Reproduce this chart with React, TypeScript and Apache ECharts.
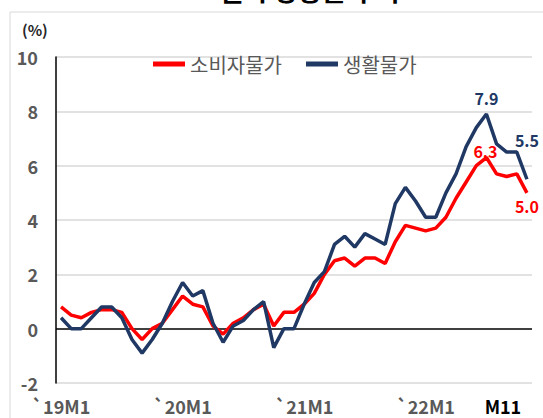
import React, { useEffect, useRef } from "react";
import * as echarts from "echarts";

const categories: string[] = [];
const years = ["19", "20", "21", "22"];
years.forEach((y) => {
  for (let m = 1; m <= 12; m++) {
    if (y === "22" && m > 11) break;
    categories.push(`${y}M${m}`);
  }
});

const cpi = [
  0.8, 0.5, 0.4, 0.6, 0.7, 0.7, 0.6, 0.0, -0.4, 0.0, 0.2, 0.7,
  1.2, 0.9, 0.8, 0.1, -0.2, 0.2, 0.4, 0.7, 0.9, 0.1, 0.6, 0.6,
  0.9, 1.3, 2.0, 2.5, 2.6, 2.3, 2.6, 2.6, 2.4, 3.2, 3.8, 3.7,
  3.6, 3.7, 4.1, 4.8, 5.4, 6.0, 6.3, 5.7, 5.6, 5.7, 5.0,
];
const living = [
  0.4, 0.0, 0.0, 0.4, 0.8, 0.8, 0.4, -0.4, -0.9, -0.4, 0.2, 1.0,
  1.7, 1.2, 1.4, 0.2, -0.5, 0.1, 0.3, 0.7, 1.0, -0.7, 0.0, 0.0,
  0.9, 1.7, 2.1, 3.1, 3.4, 3.0, 3.5, 3.3, 3.1, 4.6, 5.2, 4.7,
  4.1, 4.1, 5.0, 5.7, 6.7, 7.4, 7.9, 6.8, 6.5, 6.5, 5.5,
];
const tickLabels: Record<number, string> = {
  0: "`19M1",
  12: "`20M1",
  24: "`21M1",
  36: "`22M1",
  46: "M11",
};
const seriesNames = ["소비자물가", "생활물가"];

const RED = "#ff0000";
const NAVY = "#203864";
const GRAY = "#595959";
const FONT = "'Noto Sans CJK KR', 'Noto Sans', sans-serif";

export default function App() {
  const ref = useRef<HTMLDivElement>(null);
  useEffect(() => {
    if (!ref.current) return;
    const chart = echarts.init(ref.current, undefined, { renderer: "svg" });
    const peakIdx = 42;
    const lastIdx = cpi.length - 1;
    const cpiData = cpi.map((v, i) => {
      if (i === peakIdx)
        return {
          value: v,
          label: { show: true, position: "top", offset: [-1, 6], color: RED },
        };
      if (i === lastIdx)
        return {
          value: v,
          label: { show: true, position: "bottom", offset: [0, 0], color: RED },
        };
      return v;
    });
    const livingData = living.map((v, i) => {
      if (i === peakIdx)
        return {
          value: v,
          label: { show: true, position: "top", offset: [0, -3], color: NAVY },
        };
      if (i === lastIdx)
        return {
          value: v,
          label: { show: true, position: "top", offset: [0, -26], color: NAVY },
        };
      return v;
    });
    const labelBase = {
      show: false,
      fontSize: 16,
      fontWeight: "bold" as const,
      fontFamily: FONT,
      formatter: (p: any) => Number(p.value).toFixed(1),
    };
    chart.setOption({
      animation: false,
      textStyle: { fontFamily: FONT },
      graphic: [
        {
          type: "rect",
          shape: { x: 10, y: 12, width: 600, height: 500 },
          style: { fill: "none", stroke: "#d9d9d9", lineWidth: 1 },
          silent: true,
        },
        {
          type: "text",
          x: 310,
          y: 2,
          style: {
            text: "물가 상승률 추이",
            fontSize: 26,
            fontWeight: "bold",
            fontFamily: FONT,
            fill: "#000",
            align: "center",
            verticalAlign: "bottom",
          },
        },
        {
          type: "text",
          x: 22,
          y: 22,
          style: {
            text: "(%)",
            fontSize: 15,
            fontWeight: "bold",
            fontFamily: FONT,
            fill: "#262626",
          },
        },
      ],
      legend: {
        data: seriesNames,
        left: 148,
        top: 49,
        icon: "rect",
        itemWidth: 32,
        itemHeight: 5,
        itemGap: 24,
        textStyle: { fontSize: 20, color: GRAY, fontFamily: FONT },
      },
      grid: { left: 56, right: 11, top: 57, bottom: 35 },
      xAxis: {
        type: "category",
        data: categories,
        boundaryGap: true,
        axisLine: { show: false },
        axisTick: { show: false },
        axisLabel: {
          interval: (i: number) => tickLabels[i] !== undefined,
          formatter: (_v: string, i: number) =>
            i === 46 ? `{m|${tickLabels[i]}}` : tickLabels[i] ?? "",
          fontSize: 18,
          fontWeight: "bold",
          color: GRAY,
          fontFamily: FONT,
          margin: 14,
          rich: {
            m: {
              fontSize: 18,
              fontWeight: "bold",
              color: "#000",
              fontFamily: FONT,
              padding: [0, 48, 0, 0],
            },
          },
        },
        splitLine: { show: false },
      },
      yAxis: {
        type: "value",
        min: -2,
        max: 10,
        interval: 2,
        axisLine: { show: true, lineStyle: { color: "#000", width: 1.5 } },
        axisTick: { show: false },
        axisLabel: {
          fontSize: 18,
          fontWeight: "bold",
          color: GRAY,
          fontFamily: FONT,
          margin: 18,
        },
        splitLine: {
          show: true,
          lineStyle: {
            color: ["#d9d9d9", "#000000", "#d9d9d9", "#d9d9d9", "#d9d9d9", "#d9d9d9", "#d9d9d9"],
            width: 1.5,
          },
        },
      },
      series: [
        {
          name: seriesNames[0],
          type: "line",
          data: cpiData,
          symbol: "circle",
          symbolSize: 0,
          showSymbol: true,
          lineStyle: { color: RED, width: 3.5 },
          itemStyle: { color: RED },
          label: labelBase,
          z: 3,
        },
        {
          name: seriesNames[1],
          type: "line",
          data: livingData,
          symbol: "circle",
          symbolSize: 0,
          showSymbol: true,
          lineStyle: { color: NAVY, width: 3.5 },
          itemStyle: { color: NAVY },
          label: labelBase,
          z: 4,
        },
      ],
    });
    return () => chart.dispose();
  }, []);
  return <div ref={ref} style={{ width: 543, height: 418, position: "absolute", left: 0, top: 0 }} />;
}
